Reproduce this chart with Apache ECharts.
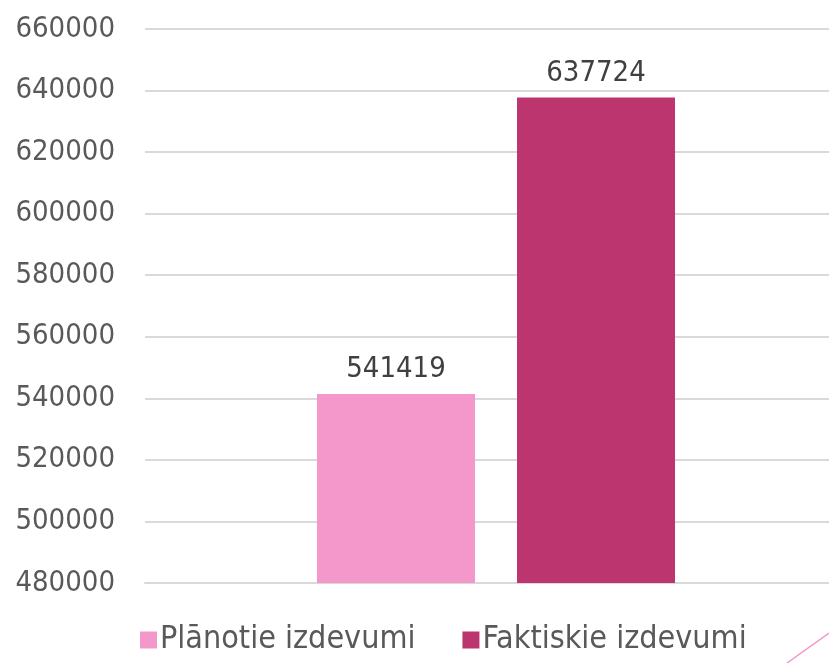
<!DOCTYPE html>
<html>
<head>
<meta charset="utf-8">
<script src="https://cdn.jsdelivr.net/npm/echarts@6/dist/echarts.min.js"></script>
<style>html,body{margin:0;padding:0;background:#fff;}#c{width:829px;height:663px;}</style>
</head>
<body>
<div id="c"></div>
<script>
const categories = [''];
const seriesNames = ['Plānotie izdevumi', 'Faktiskie izdevumi'];
const plannedValues = [541419];
const actualValues = [637724];
const yMin = 480000, yMax = 660000, yStep = 20000;

const FONT = '"DejaVu Sans Condensed", "DejaVu Sans", sans-serif';
const chart = echarts.init(document.getElementById('c'), null, {renderer: 'canvas'});
chart.setOption({
  animation: false,
  backgroundColor: '#ffffff',
  grid: {left: 145, right: -18, top: 29, height: 554, containLabel: false, outerBoundsMode: 'none'},
  legend: {
    bottom: 2, left: 135,
    itemWidth: 17, itemHeight: 17, itemGap: 47,
    icon: 'rect',
    textStyle: {fontFamily: FONT, fontSize: 32, color: '#595959', padding: [0, 0, 0, -2]},
    data: seriesNames
  },
  xAxis: {
    type: 'category', data: categories,
    axisLine: {show: true, lineStyle: {color: '#d9d9d9', width: 2}},
    axisTick: {show: false}, axisLabel: {show: false}
  },
  yAxis: {
    type: 'value', min: yMin, max: yMax, interval: yStep,
    axisLine: {show: false}, axisTick: {show: false},
    axisLabel: {fontFamily: FONT, fontSize: 29, color: '#595959', margin: 30,
      formatter: function (v) { return String(v); }},
    splitLine: {lineStyle: {color: '#d9d9d9', width: 2}}
  },
  series: [
    {
      name: seriesNames[0], type: 'bar', data: plannedValues,
      barWidth: 158, barGap: '26.6%',
      itemStyle: {color: '#F497CB'},
      label: {show: true, position: 'top', distance: 10, fontFamily: FONT, fontSize: 29, color: '#404040'}
    },
    {
      name: seriesNames[1], type: 'bar', data: actualValues,
      barWidth: 158, barGap: '26.6%',
      itemStyle: {color: '#BC356F'},
      label: {show: true, position: 'top', distance: 10, fontFamily: FONT, fontSize: 29, color: '#404040'}
    }
  ],
  graphic: [{
    type: 'line', silent: true,
    shape: {x1: 787, y1: 663, x2: 829, y2: 633},
    style: {stroke: '#F497CB', lineWidth: 1.5}
  }]
});
</script>
</body>
</html>
